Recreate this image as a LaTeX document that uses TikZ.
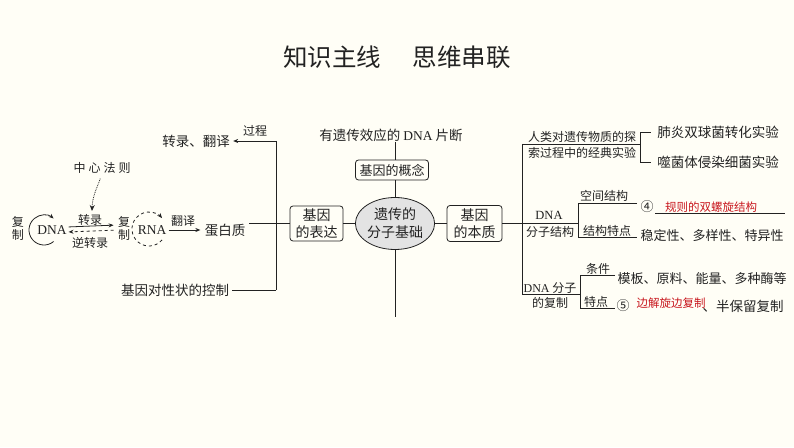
\documentclass[tikz,border=0pt]{standalone}
\usepackage{fontspec}
\setmainfont{Noto Sans CJK SC}
\newfontfamily\lat{Liberation Serif}
\usetikzlibrary{arrows.meta,shapes.geometric}
\definecolor{bgc}{HTML}{FFFEF6}
\definecolor{ln}{HTML}{222222}
\definecolor{redt}{HTML}{C8161D}
\definecolor{ellf}{HTML}{E3E3E3}
\newcommand\fs[1]{\fontsize{#1}{#1}\selectfont}
\tikzset{
  t/.style={inner sep=0pt},
  bx/.style={draw, rounded corners=3pt, inner sep=0pt, align=center},
  arr/.style={-{Stealth[length=5pt,width=4pt]}},
}
\begin{document}
\begin{tikzpicture}[x=1pt,y=1pt,line width=0.8pt,color=ln]
\fill[bgc] (0,0) rectangle (794,447);
\useasboundingbox (0,0) rectangle (794,447);

% title
\node[t,font={\fs{24.5}}] (title) at (397,390) {知识主线\hspace{1.3em}思维串联};

% centre
\node[draw, ellipse, fill=ellf, minimum width=78pt, minimum height=52pt, inner sep=0pt, align=center, font={\fontsize{14}{18}\selectfont}] (core) at (395,223.5) {遗传的\\分子基础};
\node[bx, minimum width=73pt, minimum height=20pt, font={\fs{13}}] (gc) at (392,277) {基因的概念};
\node[t, font={\fs{13.5}}] (gdef) at (391,312) {有遗传效应的 {\lat DNA} 片断};
\node[bx, minimum width=53pt, minimum height=35pt, font={\fontsize{14}{17}\selectfont}] (expr) at (316.5,223.5) {基因\\的表达};
\node[bx, minimum width=55pt, minimum height=36pt, font={\fontsize{14}{17}\selectfont}] (ess) at (474.5,223.5) {基因\\的本质};
\coordinate (cbot) at (395,130);

\draw (core.north) -- (core.north |- gc.south);
\draw (core.north |- gc.north) -- (core.north |- gdef.south);
\draw (core.south) -- (cbot);
\draw (expr.east) -- (core.west);
\draw (core.east) -- (ess.west);

% left side
\coordinate (Ltop) at (276,306);
\coordinate (Lm) at (276,223.5);
\coordinate (Lbot) at (276,157);
\draw (Ltop) -- (Lbot);
\draw (expr.west) -- (Lm);
\node[t, font={\fs{13.5}}] (zyfy) at (196,306) {转录、翻译};
\node[t, font={\fs{12}}] (guocheng) at (255,316) {过程};
\draw[arr, shorten >=3pt] (Ltop) -- (zyfy.east);
\node[t, font={\fs{13.5}}] (dbz) at (225,217) {蛋白质};
\draw[shorten >=3pt] (Lm) -- (Lm -| dbz.east);
\node[t, font={\fs{13.5}}] (jykz) at (175,157) {基因对性状的控制};
\draw[shorten >=3pt] (Lbot) -- (jykz.east);

% central dogma
\node[t, font={\fs{12}}] (zxfz) at (102,279) {中\hspace{3pt}心\hspace{3pt}法\hspace{3pt}则};
\coordinate (dge) at (92,236);
\draw[densely dotted, -{Stealth[length=6pt,width=5pt]}, shorten <=5pt] (zxfz.south) to[out=-110,in=88] (dge);
\node[t, font={\fontsize{12}{13}\selectfont}, align=center] (fz1) at (18,219) {复\\制};
\node[t, font={\lat\fs{13.5}}] (dna) at (52,217) {DNA};
\coordinate (dnac) at (44,217);
\draw[arr] ([shift={(-50:15)}]dnac) arc[start angle=-50, end angle=-310, radius=15];
\node[t, font={\fontsize{12}{13}\selectfont}, align=center] (fz2) at (124,219) {复\\制};
\node[t, font={\lat\fs{13.5}}] (rna) at (152,217) {RNA};
\coordinate (rnac) at (149,218);
\draw[dashed, arr] ([shift={(-40:17)}]rnac) arc[start angle=-40, end angle=-320, radius=17];
\draw[arr, shorten <=1.5pt, shorten >=4pt] ([yshift=3pt]dna.east) -- ([yshift=3pt]fz2.west);
\draw[dashed, arr, shorten <=4pt, shorten >=1.5pt] ([yshift=-2pt]fz2.west) -- ([yshift=-2pt]dna.east);
\node[t, font={\fs{12}}] (zl) at (90,227) {转录};
\node[t, font={\fs{12}}] (nzl) at (90,204) {逆转录};
\draw[arr, shorten <=2pt, shorten >=4pt] (rna.east) -- (dbz.west);
\node[t, font={\fs{12}}] (fy) at (183,226) {翻译};

% right side
\coordinate (Rtop) at (522,303);
\coordinate (Rm) at (522,223.5);
\coordinate (Rbot) at (522,153);
\draw (Rtop) -- (Rbot);
\draw (ess.east) -- (Rm);

% branch 1
\node[t, font={\fs{12}}] (rl1) at (582,310) {人类对遗传物质的探};
\node[t, font={\fs{12}}] (rl2) at (582,294) {索过程中的经典实验};
\coordinate (B1) at (640,303);
\node[t, font={\fs{13.5}}] (fy1) at (718,315) {肺炎双球菌转化实验};
\node[t, font={\fs{13.5}}] (fy2) at (718,285) {噬菌体侵染细菌实验};
\draw (Rtop) -- (B1);
\draw ([xshift=-6pt]fy1.west) -| (B1) |- ([xshift=-6pt]fy2.west);

% branch 2
\node[t, font={\lat\fs{12.5}}] (dnat) at (549,232) {DNA};
\node[t, font={\fs{12}}] (fzjg) at (550,215) {分子结构};
\coordinate (B2) at (578,223.5);
\draw (Rm) -- (B2);
\coordinate (k1) at (637,244);
\coordinate (k2) at (637,210);
\draw (k1) -| (B2) |- (k2);
\node[t, font={\fs{12}}] (kjjg) at (604,251) {空间结构};
\node[t, font={\fs{12}}] (jgtd) at (607,216) {结构特点};
\node[t, font={\fs{13}}] (c4) at (647,240) {④};
\node[t, font={\fs{11.5}}, text=redt] (gzsl) at (711,240) {规则的双螺旋结构};
\coordinate (u1) at (655,234);
\coordinate (u2) at (785,234);
\draw[line width=0.6pt] (u1) -- (u2);
\node[t, font={\fs{13}}] (wdx) at (712,211) {稳定性、多样性、特异性};

% branch 3
\node[t, font={\fs{12}}] (fz3a) at (550,159) {{\lat DNA} 分子};
\node[t, font={\fs{12}}] (fz3b) at (550,144) {的复制};
\coordinate (B3) at (580,153);
\draw (Rbot) -- (B3);
\coordinate (t1) at (615,172);
\coordinate (t2) at (615,139);
\draw (t1) -| (B3) |- (t2);
\node[t, font={\fs{12}}] (tj) at (598,178) {条件};
\node[t, font={\fs{12}}] (td) at (596,145) {特点};
\node[t, font={\fs{13}}] (mb) at (702,168) {模板、原料、能量、多种酶等};
\node[t, font={\fs{13}}] (c5) at (623,141) {⑤};
\node[t, font={\fs{11.5}}, text=redt] (bjx) at (671,144) {边解旋边复制};
\node[t, font={\fs{13.5}}] (bbl) at (743,141) {、半保留复制};
\end{tikzpicture}
\end{document}
